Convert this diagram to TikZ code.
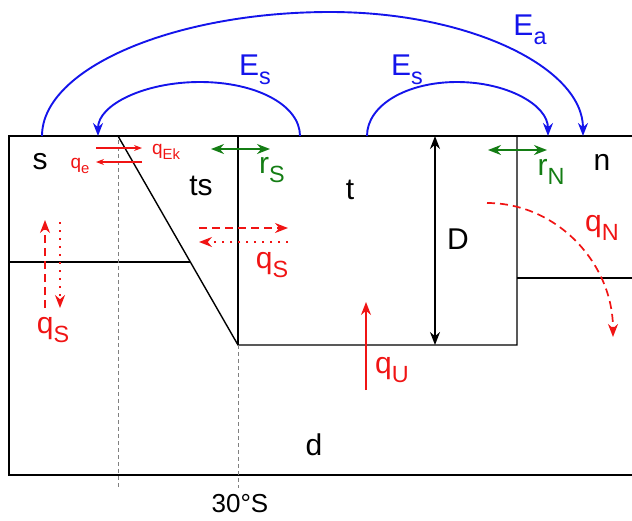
\documentclass[tikz,border=0pt]{standalone}
\usepackage{fontspec}
\setmainfont{Liberation Sans}
\usetikzlibrary{arrows.meta}
\definecolor{fluxred}{RGB}{240,20,20}
\definecolor{eblue}{RGB}{20,20,235}
\definecolor{rgreen}{RGB}{20,125,20}
\newcommand{\dn}[1]{\raisebox{-0.3em}{\scalebox{0.78}{#1}}}

\begin{document}
\begin{tikzpicture}[
  x=1pt, y=-1pt,
  big/.style={font=\fontsize{30}{32}\selectfont, inner sep=0pt},
  redlabel/.style={big, text=fluxred},
  tinylabel/.style={font=\fontsize{19}{21}\selectfont, text=fluxred, inner sep=0pt},
  wall/.style={line width=1.4pt},
  tip/.style={-{Stealth[length=13pt,width=10pt]}},
  twotip/.style={{Stealth[length=13pt,width=10pt]}-{Stealth[length=13pt,width=10pt]}},
  eflux/.style={tip, eblue, line width=1.9pt},
  qflux/.style={tip, fluxred, line width=1.7pt},
  mixflux/.style={twotip, rgreen, line width=1.7pt},
  lat/.style={gray, line width=0.8pt, dash pattern=on 4pt off 3pt}
]
\useasboundingbox (0,0) rectangle (632,520);

% basin outline and boxes
\coordinate (nw) at (9,136);
\coordinate (sw) at (9,475);
\coordinate (ne) at (632,136);
\coordinate (se) at (632,475);
\coordinate (tsTop) at (118,136);
\coordinate (tsBot) at (238,345);
\coordinate (tTop) at (238,136);
\coordinate (nTop) at (517,136);
\coordinate (nBot) at (517,345);
\coordinate (sMix) at (9,262);
\coordinate (sMixE) at (190,262);
\coordinate (nMix) at (517,278);
\coordinate (nMixE) at (632,278);

\draw[line width=1.8pt] (ne) -- (nw) -- (sw) -- (se);
\draw[wall] (tsTop) -- (tsBot) -- (nBot) -- (nTop);
\draw[wall] (tTop) -- (tsBot);
\draw[wall] (sMix) -- (sMixE);
\draw[wall] (nMix) -- (nMixE);

% latitudes
\coordinate (latA) at (118,140);
\coordinate (latAend) at (118,488);
\coordinate (latBend) at (238,488);
\draw[lat] (latA) -- (latAend);
\draw[lat] (tsBot) -- (latBend);
\node[big, font=\fontsize{26}{28}\selectfont] (lat30) at (240,504) {30°S};

% box names
\node[big] (s) at (40,162) {s};
\node[big] (ts) at (201,186) {ts};
\node[big] (t) at (350,190) {t};
\node[big] (n) at (602,162) {n};
\node[big] (d) at (314,445) {d};

% thermocline depth
\coordinate (Dtop) at (435,136);
\coordinate (Dbot) at (435,345);
\draw[twotip, line width=1.6pt] (Dtop) -- (Dbot);
\node[big] (D) at (458,239) {D};

% atmospheric moisture fluxes
\coordinate (EaS) at (42,136);
\coordinate (EaE) at (583,136);
\coordinate (EsLS) at (300,136);
\coordinate (EsLE) at (98,136);
\coordinate (EsRS) at (367,136);
\coordinate (EsRE) at (548,136);
\draw[eflux] (EaS) .. controls (42,68) and (175,12) .. (330,12)
  .. controls (470,12) and (583,68) .. (EaE);
\draw[eflux] (EsLS) .. controls (300,105) and (256,82) .. (200,82)
  .. controls (144,82) and (98,105) .. (EsLE);
\draw[eflux] (EsRS) .. controls (367,105) and (407,82) .. (457,82)
  .. controls (507,82) and (548,105) .. (EsRE);
\node[big, text=eblue] (Ea) at (530,30) {E\dn{a}};
\node[big, text=eblue] (EsL) at (255,70) {E\dn{s}};
\node[big, text=eblue] (EsR) at (407,70) {E\dn{s}};

% Ekman and eddy transport
\coordinate (qEkS) at (96,148);
\coordinate (qEkE) at (142,148);
\coordinate (qeS) at (142,162);
\coordinate (qeE) at (96,162);
\draw[fluxred, line width=1.1pt, -{Stealth[length=8pt,width=6pt]}] (qEkS) -- (qEkE);
\draw[fluxred, line width=1.1pt, -{Stealth[length=8pt,width=6pt]}] (qeS) -- (qeE);
\node[tinylabel] (qEk) at (166,152) {q\dn{Ek}};
\node[tinylabel] (qe) at (80,166) {q\dn{e}};

% southern mixing
\coordinate (rSW) at (211,149);
\coordinate (rSE) at (270,149);
\draw[mixflux] (rSW) -- (rSE);
\node[big, text=rgreen] (rS) at (272,170) {r\dn{S}};
\coordinate (rNW) at (488,150);
\coordinate (rNE) at (547,150);
\draw[mixflux] (rNW) -- (rNE);
\node[big, text=rgreen] (rN) at (551,172) {r\dn{N}};

% southern overturning
\coordinate (qSa) at (199,228);
\coordinate (qSb) at (288,228);
\coordinate (qSc) at (288,242);
\coordinate (qSd) at (199,242);
\draw[qflux, dash pattern=on 8pt off 5pt] (qSa) -- (qSb);
\draw[qflux, dash pattern=on 2pt off 6pt] (qSc) -- (qSd);
\node[redlabel] (qSts) at (272,265) {q\dn{S}};

\coordinate (qSe) at (45,308);
\coordinate (qSf) at (45,220);
\coordinate (qSg) at (60,222);
\coordinate (qSh) at (60,308);
\draw[qflux, dash pattern=on 8pt off 5pt] (qSe) -- (qSf);
\draw[qflux, dash pattern=on 2pt off 6pt] (qSg) -- (qSh);
\node[redlabel] (qSs) at (53,330) {q\dn{S}};

% upwelling
\coordinate (qUs) at (366,390);
\coordinate (qUe) at (366,302);
\draw[qflux] (qUs) -- (qUe);
\node[redlabel] (qU) at (392,370) {q\dn{U}};

% northern sinking
\coordinate (qNs) at (487,203);
\draw[qflux, dash pattern=on 8pt off 5pt] (qNs) arc[start angle=-90, end angle=0, x radius=126, y radius=134];
\node[redlabel] (qN) at (602,228) {q\dn{N}};

\end{tikzpicture}
\end{document}
